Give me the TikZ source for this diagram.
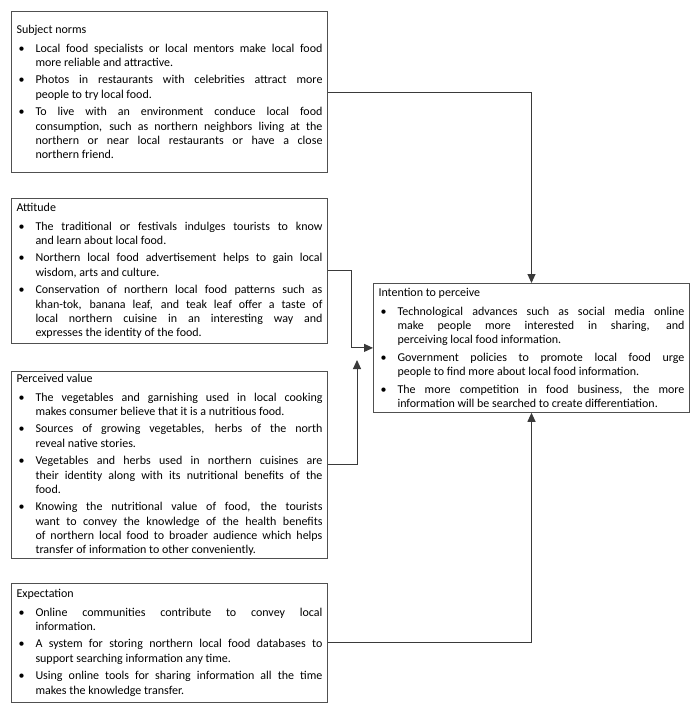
\documentclass[tikz,border=0pt]{standalone}
\usepackage{fontspec}
\setmainfont{Carlito}[WordSpace={1,3,0}]
\usetikzlibrary{arrows.meta}
\definecolor{boxgray}{HTML}{505050}
\definecolor{linegray}{HTML}{3A3A3A}
\hyphenpenalty=10000
\exhyphenpenalty=10000
\tolerance=9999
\emergencystretch=20pt
\newenvironment{points}{\begin{list}{\textbullet}{\setlength{\leftmargin}{19pt}\setlength{\labelwidth}{19pt}\setlength{\labelsep}{0pt}\setlength{\itemsep}{3.5pt}\setlength{\parsep}{0pt}\setlength{\topsep}{4pt}\setlength{\partopsep}{0pt}\def\makelabel##1{\hspace{2pt}##1\hfill}}}{\end{list}}
\tikzset{
  factor/.style={draw=boxgray,line width=1pt,anchor=north west,text width=306pt,inner xsep=5pt,inner ysep=5pt,align=justify,font=\fontsize{12pt}{14.2pt}\selectfont},
  link/.style={draw=linegray,line width=1pt,-{Triangle[length=9pt,width=8pt]}}
}
\begin{document}
\begin{tikzpicture}[x=1pt,y=-1pt]
  \useasboundingbox (0,0) rectangle (700,713);
  \node[factor,inner ysep=14pt] (sn) at (11,11) {Subject norms
    \begin{points}
    \item Local food specialists or local mentors make local food more reliable and attractive.
    \item Photos in restaurants with celebrities attract more\linebreak people to try local food.
    \item To live with an environment conduce local food consumption, such as northern neighbors living at the northern or near local restaurants or have a close\linebreak northern friend.
    \end{points}};
  \node[factor] (att) at (11,198) {Attitude
    \begin{points}
    \item The traditional or festivals indulges tourists to know\linebreak and learn about local food.
    \item Northern local food advertisement helps to gain local wisdom, arts and culture.
    \item Conservation of northern local food patterns such as khan-tok, banana leaf, and teak leaf offer a taste of\linebreak local northern cuisine in an interesting way and\linebreak expresses the identity of the food.
    \end{points}};
  \node[factor,inner ysep=3pt] (pv) at (11,371) {Perceived value
    \begin{points}
    \item The vegetables and garnishing used in local cooking\linebreak makes consumer believe that it is a nutritious food.
    \item Sources of growing vegetables, herbs of the north\linebreak reveal native stories.
    \item Vegetables and herbs used in northern cuisines are their identity along with its nutritional benefits of the\linebreak food.
    \item Knowing the nutritional value of food, the tourists\linebreak want to convey the knowledge of the health benefits\linebreak of northern local food to broader audience which helps\linebreak transfer of information to other conveniently.
    \end{points}};
  \node[factor,inner ysep=6pt] (exp) at (11,583) {Expectation
    \begin{points}
    \item Online communities contribute to convey local\linebreak information.
    \item A system for storing northern local food databases to support searching information any time.
    \item Using online tools for sharing information all the time makes the knowledge transfer.
    \end{points}};
  \node[factor] (ip) at (373,283) {Intention to perceive
    \begin{points}
    \item Technological advances such as social media online\linebreak make people more interested in sharing, and\linebreak perceiving local food information.
    \item Government policies to promote local food urge\linebreak people to find more about local food information.
    \item The more competition in food business, the more information will be searched to create differentiation.
    \end{points}};
  \coordinate (pvend) at (357,360);

  \draw[link] (sn.east) -| (ip.north);
  \draw[link] (att.east) -- ++(23,0) |- (ip.west);
  \draw[link] (pv.east) -| (pvend);
  \draw[link] (exp.east) -| (ip.south);
\end{tikzpicture}
\end{document}
